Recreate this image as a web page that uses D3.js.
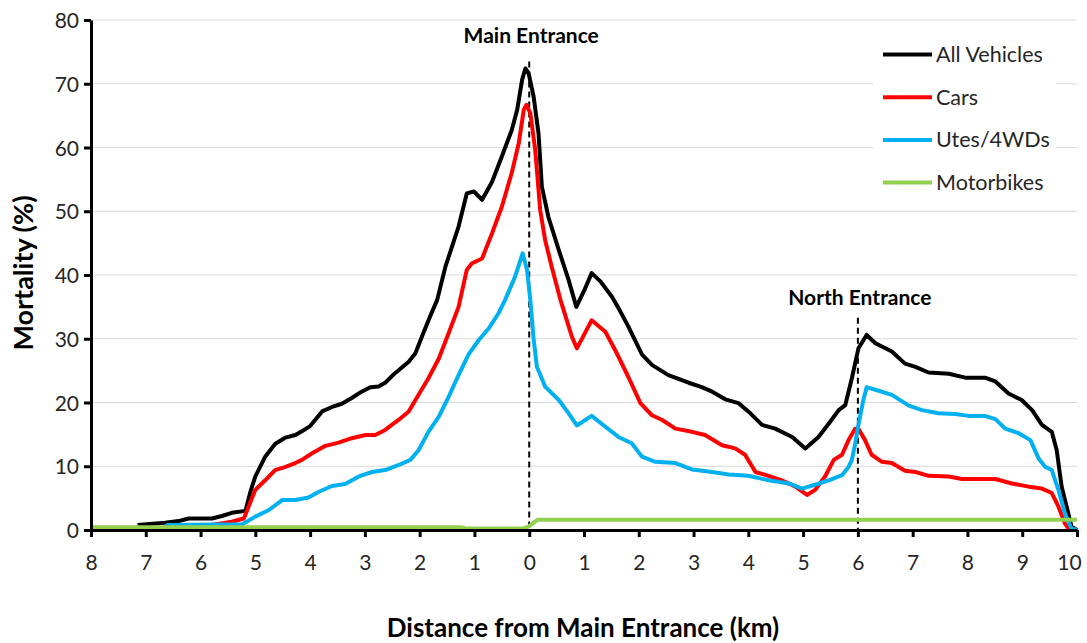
<!DOCTYPE html>
<html><head><meta charset="utf-8">
<script src="https://cdn.jsdelivr.net/npm/d3@7"></script>
<style>body{margin:0;background:#fff}svg{display:block}text{font-family:Lato,"Open Sans",sans-serif}</style>
</head><body><svg id="c" width="1087" height="643"></svg>
<script>
// Data: [distance km (negative = before main entrance), mortality %]
const allVehicles = [[-7.15,0.8],[-6.65,1.15],[-6.4,1.4],[-6.22,1.8],[-5.79,1.8],[-5.61,2.2],[-5.43,2.7],[-5.18,3.0],[-5.09,6.0],[-5.0,8.4],[-4.82,11.5],[-4.64,13.5],[-4.45,14.5],[-4.27,14.9],[-4.15,15.5],[-4.0,16.3],[-3.78,18.6],[-3.6,19.3],[-3.42,19.8],[-3.24,20.7],[-3.06,21.7],[-2.9,22.4],[-2.75,22.5],[-2.63,23.1],[-2.45,24.6],[-2.2,26.4],[-2.08,27.7],[-1.96,30.3],[-1.81,33.5],[-1.68,36.1],[-1.53,41.3],[-1.29,47.6],[-1.14,52.8],[-1.01,53.1],[-0.86,51.8],[-0.68,54.6],[-0.5,58.6],[-0.32,62.7],[-0.22,65.9],[-0.13,70.6],[-0.07,72.4],[-0.01,71.6],[0.08,68.0],[0.17,62.2],[0.23,53.9],[0.35,49.1],[0.54,43.9],[0.72,39.2],[0.86,35.0],[1.0,37.5],[1.14,40.3],[1.3,39.0],[1.51,36.6],[1.65,34.5],[1.81,31.9],[2.06,27.5],[2.24,25.9],[2.54,24.3],[2.91,23.1],[3.15,22.4],[3.34,21.7],[3.58,20.5],[3.82,19.9],[4.0,18.6],[4.25,16.5],[4.49,15.9],[4.8,14.6],[5.04,12.8],[5.28,14.6],[5.47,16.7],[5.65,18.8],[5.77,19.6],[5.89,23.8],[6.01,28.5],[6.16,30.6],[6.32,29.3],[6.62,28.0],[6.86,26.1],[7.05,25.6],[7.29,24.7],[7.66,24.5],[7.96,23.9],[8.32,23.9],[8.51,23.3],[8.75,21.4],[8.99,20.4],[9.18,18.8],[9.36,16.5],[9.54,15.4],[9.63,12.5],[9.72,6.8],[9.81,3.7],[9.9,0.5],[10.0,0]];
const cars = [[-7.1,0],[-6.5,0.1],[-6.0,0.5],[-5.43,1.3],[-5.21,1.8],[-5.0,6.3],[-4.82,7.8],[-4.64,9.4],[-4.45,9.9],[-4.27,10.5],[-4.15,11.0],[-3.97,12.0],[-3.72,13.2],[-3.48,13.7],[-3.24,14.4],[-2.99,14.9],[-2.81,14.9],[-2.63,15.7],[-2.38,17.3],[-2.2,18.6],[-2.02,21.2],[-1.84,23.8],[-1.65,26.9],[-1.47,30.9],[-1.29,35.0],[-1.14,40.8],[-1.05,41.8],[-0.86,42.6],[-0.68,46.5],[-0.5,50.7],[-0.32,56.0],[-0.19,60.7],[-0.1,65.9],[-0.05,66.7],[0.02,65.4],[0.11,59.6],[0.2,50.2],[0.29,45.5],[0.41,41.3],[0.57,36.1],[0.78,30.3],[0.87,28.5],[1.14,32.9],[1.39,31.1],[1.57,28.2],[1.81,24.0],[2.03,19.9],[2.24,18.0],[2.42,17.3],[2.67,15.9],[2.97,15.4],[3.21,14.9],[3.52,13.3],[3.76,12.8],[3.94,11.8],[4.13,9.1],[4.37,8.5],[4.61,7.8],[4.86,6.8],[5.07,5.5],[5.22,6.3],[5.4,8.4],[5.56,11.0],[5.71,11.8],[5.83,14.1],[5.95,15.9],[6.01,15.9],[6.13,14.1],[6.25,11.8],[6.44,10.7],[6.62,10.5],[6.86,9.3],[7.05,9.1],[7.29,8.5],[7.66,8.4],[7.9,8.0],[8.51,8.0],[8.81,7.3],[9.12,6.8],[9.36,6.5],[9.54,5.8],[9.66,3.7],[9.78,1.0],[9.85,0.2],[10.0,0]];
const utes = [[-8,0],[-6.7,0],[-6.6,0.8],[-5.24,0.9],[-5.0,2.1],[-4.76,3.1],[-4.51,4.7],[-4.27,4.7],[-4.03,5.1],[-3.84,6.0],[-3.6,6.9],[-3.36,7.2],[-3.11,8.4],[-2.87,9.1],[-2.63,9.4],[-2.38,10.2],[-2.17,11.0],[-2.02,12.5],[-1.84,15.4],[-1.65,17.8],[-1.47,20.9],[-1.29,24.3],[-1.11,27.5],[-0.92,29.8],[-0.74,31.6],[-0.56,34.0],[-0.44,36.1],[-0.26,39.7],[-0.12,43.4],[-0.04,40.8],[0.02,36.1],[0.08,30],[0.14,25.6],[0.29,22.5],[0.54,20.4],[0.72,18.3],[0.87,16.4],[1.14,17.9],[1.39,16.2],[1.63,14.6],[1.87,13.6],[2.06,11.5],[2.3,10.7],[2.67,10.5],[2.97,9.5],[3.34,9.1],[3.64,8.7],[4.0,8.5],[4.37,7.8],[4.74,7.3],[4.98,6.5],[5.22,7.1],[5.47,7.8],[5.71,8.6],[5.83,9.9],[5.89,11.0],[5.95,13.5],[6.01,16.5],[6.1,20.4],[6.16,22.4],[6.32,22.0],[6.62,21.2],[6.93,19.5],[7.17,18.8],[7.47,18.3],[7.78,18.2],[8.02,17.9],[8.32,17.9],[8.51,17.4],[8.69,15.9],[8.93,15.2],[9.15,14.1],[9.3,11.2],[9.42,9.9],[9.54,9.4],[9.66,6.3],[9.78,2.6],[9.9,0.2],[10.0,0]];
const motorbikes = [[-8,0.45],[-1.25,0.45],[-1.15,0.25],[-0.1,0.25],[0.0,0.6],[0.15,1.6],[10,1.6]];
const seriesNames = ["All Vehicles","Cars","Utes/4WDs","Motorbikes"];
const seriesColors = ["#000000","#ff0000","#00b0f0","#92d050"];
const xTicks = [-8,-7,-6,-5,-4,-3,-2,-1,0,1,2,3,4,5,6,7,8,9,10];
const xTickLabels = ["8","7","6","5","4","3","2","1","0","1","2","3","4","5","6","7","8","9","10"];
const yTicks = [0,10,20,30,40,50,60,70,80];
const entrances = [{name:"Main Entrance", km:0, top:73.5}, {name:"North Entrance", km:6, top:33.3}];

const svg = d3.select("#c");
const m = {left:91, right:10, top:20, bottom:113};
const W = 1087, H = 643;
const x = d3.scaleLinear().domain([-8,10]).range([m.left, W-m.right]);
const y = d3.scaleLinear().domain([0,80]).range([H-m.bottom, m.top]);

// gridlines
svg.append("g").selectAll("line").data(yTicks.filter(d=>d>0)).join("line")
  .attr("x1", x(-8)).attr("x2", x(10)).attr("y1", d=>y(d)).attr("y2", d=>y(d))
  .attr("stroke","#d9d9d9").attr("stroke-width",1.2);

// dashed entrance lines
svg.append("g").selectAll("line").data(entrances).join("line")
  .attr("x1", d=>x(d.km)).attr("x2", d=>x(d.km)).attr("y1", d=>y(d.top)).attr("y2", y(0))
  .attr("stroke","#000").attr("stroke-width",2).attr("stroke-dasharray","6,4");

// series
const line = d3.line().x(d=>x(d[0])).y(d=>y(d[1]));
const allSeries = [allVehicles, cars, utes, motorbikes];
svg.append("g").selectAll("path").data(allSeries).join("path")
  .attr("d", line).attr("fill","none")
  .attr("stroke", (d,i)=>seriesColors[i]).attr("stroke-width",4)
  .attr("stroke-linejoin","round");

// axes
const xAxis = svg.append("g").attr("transform",`translate(0,${y(0)})`)
  .call(d3.axisBottom(x).tickValues(xTicks).tickFormat((d,i)=>xTickLabels[i]).tickSize(7).tickSizeOuter(0));
const yAxis = svg.append("g").attr("transform",`translate(${x(-8)},0)`)
  .call(d3.axisLeft(y).tickValues(yTicks).tickSize(7).tickSizeOuter(0));
[xAxis,yAxis].forEach(a=>{
  a.select(".domain").attr("stroke","#000").attr("stroke-width",3);
  a.selectAll(".tick line").attr("stroke","#000").attr("stroke-width",3);
  a.selectAll(".tick text").attr("fill","#262626").style("font-size","21px").style("font-family","Lato");
});
xAxis.selectAll(".tick text").attr("dy","0").attr("y",40)
  .attr("x",(d)=> d===10 ? -8 : 0);
yAxis.selectAll(".tick text").attr("x",-12).attr("dy","0.36em");

// entrance labels
svg.append("g").selectAll("text").data(entrances).join("text")
  .attr("x", d=>x(d.km)+2).attr("y", d=> d.km===0 ? 43 : 305)
  .attr("text-anchor","middle").style("font-size","21px").style("font-weight","bold").attr("fill","#000")
  .text(d=>d.name);

// axis titles
svg.append("text").attr("x", 583).attr("y", 637).attr("text-anchor","middle")
  .style("font-size","26px").style("font-weight","bold").attr("fill","#000")
  .text("Distance from Main Entrance (km)");
svg.append("text").attr("transform","translate(33,273) rotate(-90)").attr("text-anchor","middle")
  .style("font-size","27px").style("font-weight","bold").attr("fill","#000")
  .text("Mortality (%)");

// legend
const lg = svg.append("g");
lg.append("rect").attr("x",873).attr("y",32).attr("width",183).attr("height",170).attr("fill","#fff");
const rows = lg.selectAll("g").data(seriesNames).join("g")
  .attr("transform",(d,i)=>`translate(0,${54.5 + i*42.7})`);
rows.append("line").attr("x1",883).attr("x2",932).attr("y1",0).attr("y2",0)
  .attr("stroke",(d,i)=>seriesColors[i]).attr("stroke-width",4);
rows.append("text").attr("x",936).attr("dy","0.35em").style("font-size","21.5px").attr("fill","#262626").text(d=>d);
</script></body></html>
